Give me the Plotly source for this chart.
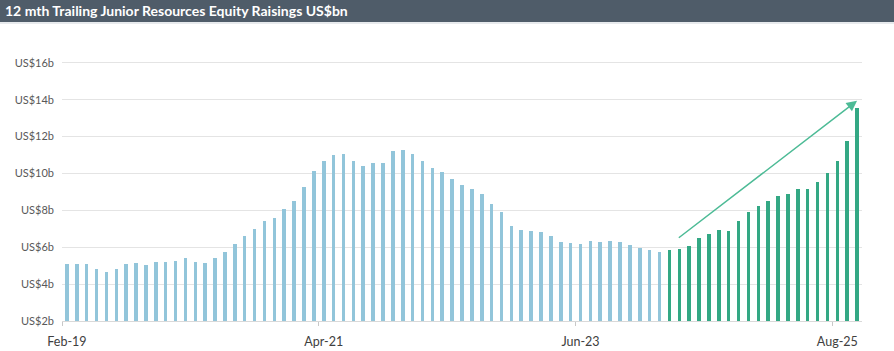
import pandas as pd
import plotly.graph_objects as go

# ---- data ----
months = pd.date_range("2019-02-01", periods=81, freq="MS").strftime("%b-%y").tolist()
values = [
    5.07, 5.07, 5.07, 4.82, 4.64, 4.82, 5.11, 5.16, 5.02, 5.20,
    5.20, 5.27, 5.40, 5.22, 5.15, 5.40, 5.76, 6.18, 6.60, 7.00,
    7.40, 7.58, 8.05, 8.49, 9.24, 10.15, 10.69, 10.98, 11.07, 10.65,
    10.42, 10.55, 10.56, 11.22, 11.29, 11.05, 10.65, 10.27, 10.09, 9.71,
    9.40, 9.16, 8.89, 8.35, 7.89, 7.16, 6.95, 6.89, 6.84, 6.60,
    6.27, 6.25, 6.18, 6.36, 6.27, 6.36, 6.31, 6.13, 5.96, 5.87,
    5.75, 5.83, 5.89, 6.09, 6.52, 6.70, 6.92, 6.86, 7.42, 7.93,
    8.24, 8.51, 8.75, 8.89, 9.18, 9.18, 9.54, 10.05, 10.70, 11.78,
    13.56,
]
green_start = 61  # index where the green (recent) series begins
x_labels = ["Feb-19", "Apr-21", "Jun-23", "Aug-25"]
y_ticks = [2, 4, 6, 8, 10, 12, 14, 16]
y_ticktext = [f"US${v}b" for v in y_ticks]
title_text = "12 mth Trailing Junior Resources Equity Raisings US$bn"
arrow_start = (61.8, 6.45)
arrow_end = (80.0, 13.94)

idx = list(range(len(values)))
label_pos = [months.index(m) for m in x_labels]
boundary_ticks = [p - 0.5 for p in label_pos]

BLUE = "#92c5da"
GREEN = "#33a884"
FONT = "Lato"

fig = go.Figure()
fig.add_trace(go.Bar(x=idx[:green_start], y=values[:green_start],
                     marker=dict(color=BLUE, line=dict(width=0)), width=0.36))
fig.add_trace(go.Bar(x=idx[green_start:], y=values[green_start:],
                     marker=dict(color=GREEN, line=dict(width=0)), width=0.36))

W, H = 894, 351
ml, mr, mt, mb = 62, 32, 60, 30
pw, ph = W - ml - mr, H - mt - mb

fig.update_layout(
    width=W, height=H,
    margin=dict(l=ml, r=mr, t=mt, b=mb, pad=0),
    paper_bgcolor="white", plot_bgcolor="white",
    showlegend=False,
    bargap=0,
    font=dict(family=FONT),
    xaxis=dict(
        range=[-0.5, len(values) - 0.5],
        tickmode="array", tickvals=label_pos, ticktext=x_labels,
        ticks="", showgrid=False, zeroline=False,
        showline=True, linecolor="#d9d9d9", linewidth=1,
        tickfont=dict(size=12.5, color="#404040", family=FONT),
        ticklabelstandoff=9,
        automargin=False,
        minor=dict(tickmode="array", tickvals=boundary_ticks, ticks="outside",
                   ticklen=4, tickcolor="#c8c8c8", tickwidth=1, showgrid=False),
        fixedrange=True,
    ),
    yaxis=dict(
        range=[2, 16.15], tickmode="array", tickvals=y_ticks, ticktext=y_ticktext,
        showgrid=True, gridcolor="#e4e4e4", gridwidth=1, zeroline=False,
        showline=False, ticks="",
        tickfont=dict(size=11, color="#595959", family=FONT),
        ticklabelstandoff=7,
        automargin=False,
        fixedrange=True,
    ),
    shapes=[
        dict(type="rect", xref="paper", yref="paper",
             x0=-ml / pw, x1=(W - ml) / pw,
             y0=(H - mb - 22) / ph, y1=(H - mb) / ph,
             fillcolor="#4f5c69", line=dict(width=0), layer="above"),
        dict(type="line", xref="paper", yref="paper",
             x0=-ml / pw, x1=(W - ml) / pw,
             y0=(H - mb - 23) / ph, y1=(H - mb - 23) / ph,
             line=dict(color="#cfd5db", width=1)),
    ],
    annotations=[
        dict(text=f"<b>{title_text}</b>", xref="paper", yref="paper",
             x=-ml / pw + 3 / pw, y=(H - mb - 11) / ph,
             xanchor="left", yanchor="middle", showarrow=False,
             font=dict(size=14, color="white", family=FONT)),
        dict(x=arrow_end[0], y=arrow_end[1], ax=arrow_start[0], ay=arrow_start[1],
             xref="x", yref="y", axref="x", ayref="y", text="",
             showarrow=True, arrowhead=2, arrowsize=1.4, arrowwidth=1.5,
             arrowcolor="#4dbb96"),
    ],
)

fig.write_html("out.html")
